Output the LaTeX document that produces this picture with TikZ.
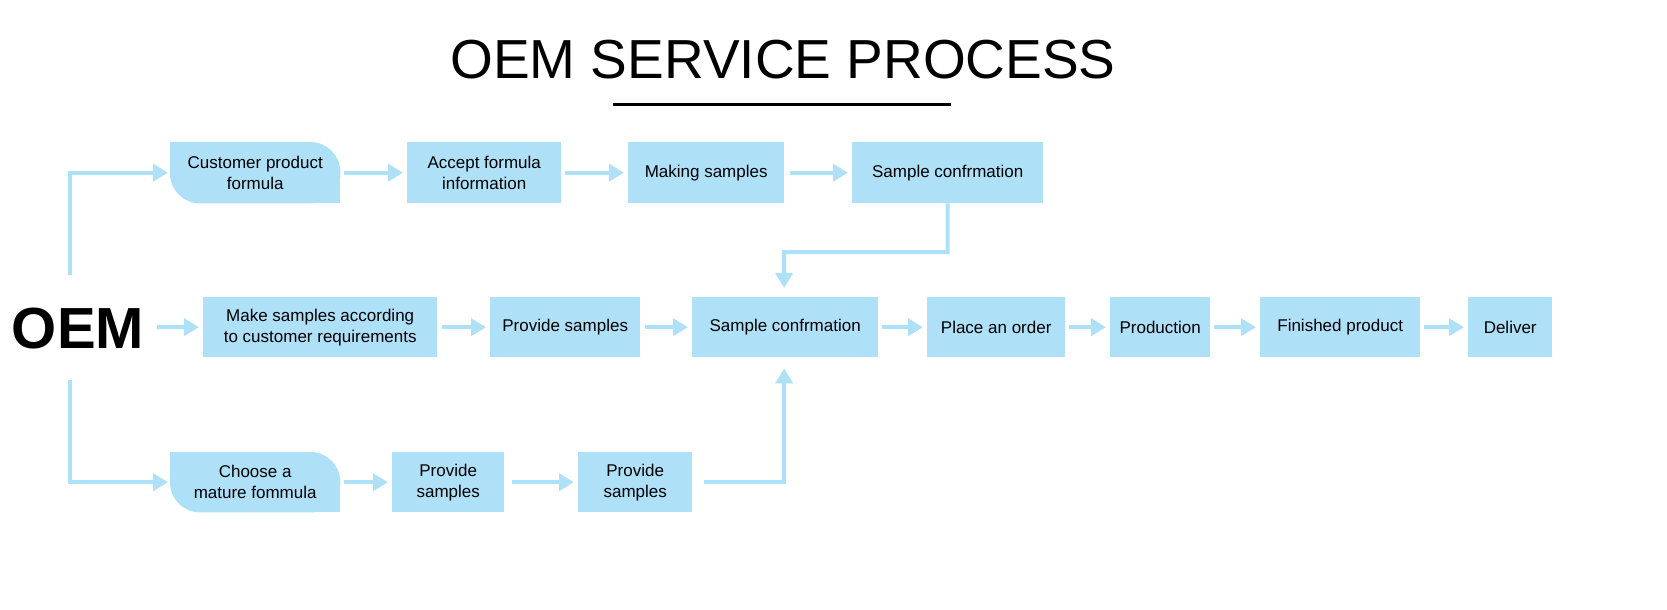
\documentclass[tikz,border=0pt]{standalone}
\usepackage{fontspec}
\setmainfont{Liberation Sans}
\usetikzlibrary{arrows.meta,backgrounds}
\definecolor{lb}{HTML}{AEE0F8}
\begin{document}
\begin{tikzpicture}[x=1pt,y=-1pt,
  box/.style={fill=lb,inner sep=0pt,align=center,font=\fontsize{17}{21}\selectfont,anchor=north west},
  rbox/.style={box,fill=none},
  ln/.style={draw=lb,line width=4pt},
  ar/.style={ln,-{Triangle[length=15pt,width=17pt]}}]
\useasboundingbox (0,0) rectangle (1667,610);
\node[font=\fontsize{55}{60}\selectfont] (title) at (783,60) {OEM SERVICE PROCESS};
\draw[line width=3pt] (613,104) coordinate (u1) -- (951,104) coordinate (u2);
\node[font=\fontsize{58}{60}\selectfont\bfseries] (oem) at (78,329) {OEM};
% top row
\node[rbox,minimum width=170,minimum height=61] (cpf) at (170,142) {Customer product\\formula};
\node[box,minimum width=154,minimum height=61] (afi) at (407,142) {Accept formula\\information};
\node[box,minimum width=156,minimum height=61] (ms) at (628,142) {Making samples};
\node[box,minimum width=191,minimum height=61] (sc1) at (852,142) {Sample confrmation};
% middle row
\node[box,minimum width=234,minimum height=60] (msa) at (203,297) {Make samples according\\to customer requirements};
\node[box,minimum width=150,minimum height=60] (ps) at (490,297) {Provide samples};
\node[box,minimum width=186,minimum height=60] (sc2) at (692,297) {Sample confrmation};
\node[box,minimum width=138,minimum height=60] (po) at (927,297) {Place an order};
\node[box,minimum width=100,minimum height=60] (pr) at (1110,297) {Production};
\node[box,minimum width=160,minimum height=60] (fp) at (1260,297) {Finished product};
\node[box,minimum width=84,minimum height=60] (de) at (1468,297) {Deliver};
% bottom row
\node[rbox,minimum width=170,minimum height=60] (cmf) at (170,452) {Choose a\\mature fommula};
\node[box,minimum width=112,minimum height=60] (ps2) at (392,452) {Provide\\samples};
\node[box,minimum width=114,minimum height=60] (ps3) at (578,452) {Provide\\samples};
\begin{scope}[on background layer]
\foreach \n in {cpf,cmf}{
  \fill[lb,rounded corners=30pt] (\n.north west) rectangle (\n.south east);
  \fill[lb] (\n.north west) rectangle ++(32,32);
  \fill[lb] (\n.south east) rectangle ++(-32,-32);
}
\end{scope}
% connectors
\coordinate (t0) at (70,275);
\coordinate (b0) at (70,380);
\coordinate (m0) at (157,327);
\draw[ar] (t0) |- ([xshift=-2pt]cpf.west);
\draw[ar] (b0) |- ([xshift=-2pt]cmf.west);
\draw[ar] ([xshift=4pt]cpf.east) -- ([xshift=-4pt]afi.west);
\draw[ar] ([xshift=4pt]afi.east) -- ([xshift=-4pt]ms.west);
\draw[ar] ([xshift=6pt]ms.east) -- ([xshift=-4pt]sc1.west);
\draw[ar] (m0) -- ([xshift=-4pt]msa.west);
\draw[ar] ([xshift=5pt]msa.east) -- ([xshift=-4pt]ps.west);
\draw[ar] ([xshift=5pt]ps.east) -- ([xshift=-4pt]sc2.west);
\draw[ar] ([xshift=4pt]sc2.east) -- ([xshift=-4pt]po.west);
\draw[ar] ([xshift=4pt]po.east) -- ([xshift=-4pt]pr.west);
\draw[ar] ([xshift=4pt]pr.east) -- ([xshift=-4pt]fp.west);
\draw[ar] ([xshift=4pt]fp.east) -- ([xshift=-4pt]de.west);
\draw[ar] ([xshift=4pt]cmf.east) -- ([xshift=-4pt]ps2.west);
\draw[ar] ([xshift=8pt]ps2.east) -- ([xshift=-4pt]ps3.west);
\draw[ar] (sc1.south) |- (784,252) -- ([xshift=-1pt,yshift=9pt]sc2.north);
\draw[ar] ([xshift=12pt]ps3.east) -| ([xshift=-1pt,yshift=-11pt]sc2.south);
\end{tikzpicture}
\end{document}
